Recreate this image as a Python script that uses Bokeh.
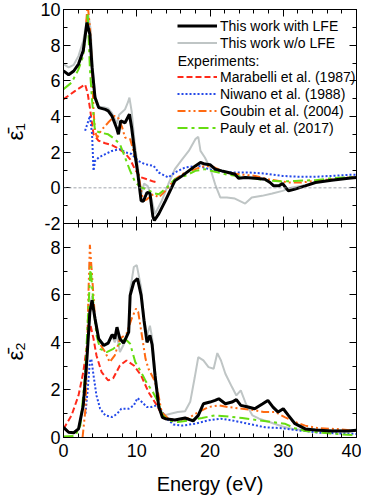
from bokeh.plotting import figure
from bokeh.models import (Range1d, LinearAxis, Legend, LegendItem, Span, Label,
                          SingleIntervalTicker, FixedTicker, CustomJSTickFormatter)
from bokeh.embed import file_html
from bokeh.resources import INLINE

FONT = "Liberation Sans"

# ---------------- data: top panel (eps1) ----------------
e1_lfe = [0, 0.7, 1.4, 2.05, 2.7, 3.2, 3.6, 3.9, 4.3, 4.8, 5.7, 6.1, 6.6, 7.3, 7.5, 7.8, 8.4, 9.0, 9.3, 9.7,
          10.15, 10.6, 10.9, 11.4, 11.8, 12.2, 12.4, 13.0, 13.9, 15.2, 16.2, 17.1, 18.0, 18.7, 19.3, 20.0, 20.7,
          21.6, 22.5, 23.4, 23.9, 24.8, 26.2, 27.5, 28.2, 28.7, 29.4, 29.9, 30.7, 31.6, 33.0, 34.4, 36.6, 38.9, 40]
v1_lfe = [6.56, 6.34, 6.55, 6.94, 7.7, 9.27, 8.6, 6.75, 5.06, 4.5, 4.4, 4.32, 4.04, 3.3, 3.0, 3.75, 3.65, 4.13,
          3.38, 2.07, 0.78, -0.73, -0.75, -0.26, -0.3, -1.6, -1.83, -1.46, -0.73, 0.39, 0.67, 0.95, 1.23, 1.42,
          1.33, 1.3, 1.05, 0.95, 0.86, 0.76, 0.54, 0.58, 0.54, 0.48, 0.3, 0.11, 0.11, 0.24, -0.17, -0.07, 0.11,
          0.3, 0.43, 0.54, 0.58]

e1_nolfe = [0, 0.7, 1.4, 2.05, 2.7, 3.2, 3.4, 3.7, 3.95, 4.3, 4.8, 5.7, 6.1, 6.6, 7.3, 7.6, 8.4, 8.8, 9.0, 9.3,
            9.7, 10.2, 10.6, 11.0, 11.5, 12.0, 12.5, 13.4, 14.3, 15.2, 16.2, 17.1, 18.0, 18.4, 18.7, 19.3, 20.0,
            20.7, 21.4, 22.3, 23.4, 24.8, 25.7, 27.1, 28.5, 29.9, 31.2, 33.0, 35, 37.5, 40]
v1_nolfe = [6.94, 6.75, 6.9, 7.4, 8.24, 9.46, 9.7, 8.9, 7.0, 5.2, 4.55, 4.5, 4.45, 4.2, 3.6, 4.1, 4.4, 4.8,
            5.06, 4.3, 2.6, 1.0, -0.4, 0.24, 0.1, -0.6, -1.47, -0.73, 0.2, 1.05, 1.6, 2.07, 2.73, 2.86, 2.07,
            1.7, 1.14, 0.2, -0.54, -0.54, -0.6, -0.88, -0.54, -0.45, -0.32, -0.17, 0.02, 0.15, 0.35, 0.48, 0.58]

e1_mar = [0, 1.6, 2.95, 3.3, 3.6, 4.1, 4.8, 5.7, 6.6, 7.5, 8.5, 9.1, 9.8, 10.5, 11.6, 12.3, 12.8]
v1_mar = [4.97, 5.44, 5.8, 5.3, 4.5, 3.0, 2.64, 2.5, 2.4, 2.2, 1.9, 1.6, 1.0, 0.6, 0.45, 0.35, 0.3]

e1_niw = [2.95, 3.4, 3.6, 3.9, 4.1, 4.3, 4.8, 5.7, 6.6, 7.7, 8.4, 9.3, 10.2, 11.1, 12.3, 13.0, 14.3, 15.2,
          16.6, 18.4, 20.7, 23.0, 25.2, 27.5, 29.9, 32.1, 34.4, 36.6, 38.9, 40]
v1_niw = [3.2, 3.76, 4.04, 3.0, 0.95, 1.5, 1.7, 1.89, 2.07, 2.17, 2.0, 1.9, 1.51, 1.33, 1.23, 0.86, 0.58,
          0.86, 1.14, 1.23, 0.95, 0.86, 0.86, 0.8, 0.67, 0.62, 0.62, 0.67, 0.73, 0.73]

e1_gou = [3.1, 3.3, 3.6, 3.9, 4.1, 4.3, 4.6, 5.1, 6.1, 7.0, 7.5, 8.0, 8.4, 9.1, 9.4, 10.1, 10.6, 10.9, 11.4,
          11.9, 12.3, 13.0, 13.9, 15.2, 16.6, 18.0, 19.3, 20.3, 22.1, 23.9, 26.2, 28.0, 29.4, 30.7, 32.5, 34.4,
          36.6, 40]
v1_gou = [9.3, 10.3, 9.0, 6.7, 4.3, 3.2, 2.8, 3.2, 3.66, 4.04, 3.9, 3.4, 2.82, 2.73, 2.3, 1.14, -0.17, -0.73,
          -0.64, -0.45, -0.36, -0.54, -0.17, 0.48, 0.86, 1.05, 1.23, 1.2, 0.86, 0.76, 0.67, 0.48, 0.39, 0.3,
          0.3, 0.39, 0.48, 0.62]

e1_pau = [0, 1.1, 2.0, 2.7, 3.0, 3.3, 3.6, 3.9, 4.3, 5.0, 6.1, 7.0, 7.7, 8.4, 9.1, 9.8, 10.6, 11.4, 12.3,
          13.0, 13.9, 15.2, 16.6, 18.0, 19.3, 20.7, 22.5, 25.2, 27.5, 29.9, 31.6, 34.4, 36.6, 40]
v1_pau = [5.53, 5.9, 6.6, 7.4, 8.6, 9.8, 6.7, 4.9, 3.2, 3.1, 3.0, 2.73, 2.45, 1.7, 0.95, 0.3, 0.02, -0.08,
          -0.3, -0.36, -0.07, 0.48, 0.67, 0.95, 1.05, 0.9, 0.73, 0.58, 0.43, 0.36, 0.39, 0.43, 0.54, 0.62]

# ---------------- data: bottom panel (eps2) ----------------
e2_lfe = [0, 0.7, 1.4, 2.05, 2.7, 3.2, 3.6, 3.9, 4.3, 4.8, 5.5, 6.1, 6.6, 6.8, 7.0, 7.3, 7.7, 8.2, 8.9, 9.1,
          9.6, 10.1, 10.6, 11.0, 11.4, 11.8, 12.1, 12.5, 13.0, 13.5, 13.9, 15.2, 16.6, 17.7, 18.4, 19.1, 20.0,
          20.7, 21.2, 22.1, 23.0, 23.6, 24.2, 25.2, 26.1, 27.2, 27.9, 28.6, 29.3, 30.0, 30.7, 31.6, 33.0, 34.4,
          36.6, 38.9, 40]
v2_lfe = [0.43, 0.22, 0.2, 0.36, 1.35, 3.32, 5.28, 5.77, 5.0, 4.15, 3.87, 3.97, 4.3, 4.3, 4.15, 4.64, 4.15,
          3.97, 4.43, 5.98, 6.54, 6.68, 5.98, 4.9, 4.0, 4.3, 3.9, 2.6, 1.3, 0.85, 0.79, 0.74, 0.82, 0.7, 0.93,
          1.42, 1.49, 1.56, 1.63, 1.42, 1.49, 1.59, 1.35, 1.28, 1.21, 1.42, 1.56, 1.28, 1.07, 1.21, 0.93, 0.58,
          0.36, 0.32, 0.27, 0.27, 0.3]

e2_nolfe = [0, 0.7, 1.4, 2.05, 2.7, 3.2, 3.6, 3.9, 4.3, 4.8, 5.5, 6.1, 6.6, 7.0, 7.3, 7.7, 8.2, 8.9, 9.1,
            9.6, 10.0, 10.6, 11.0, 11.4, 11.8, 12.1, 12.5, 13.0, 13.5, 14.2, 15.6, 16.6, 17.3, 17.9, 18.4,
            19.1, 19.8, 20.5, 21.0, 21.5, 22.1, 23.0, 23.6, 24.2, 24.9, 25.8, 26.7, 28.1, 29.9, 31.3, 33, 35, 40]
v2_nolfe = [0.43, 0.22, 0.2, 0.36, 1.35, 3.32, 5.5, 5.95, 5.1, 4.2, 3.9, 4.0, 4.3, 4.0, 4.3, 3.59, 3.9, 4.6,
            6.2, 7.17, 7.25, 6.3, 5.0, 4.3, 4.7, 4.2, 2.8, 1.4, 0.95, 0.97, 1.07, 1.1, 1.5, 2.5, 3.38, 3.24,
            2.96, 2.89, 3.55, 3.24, 2.68, 2.12, 1.77, 1.98, 1.42, 0.93, 0.79, 0.65, 0.46, 0.36, 0.32, 0.3, 0.3]

e2_mar = [0, 1.1, 2.05, 2.7, 3.4, 3.7, 4.1, 4.5, 5.2, 6.1, 6.8, 7.7, 8.6, 9.6, 10.6, 11.6, 12.6, 13.5, 14.2]
v2_mar = [0.36, 0.93, 1.77, 2.75, 4.3, 4.7, 4.15, 3.45, 2.75, 2.4, 2.5, 3.03, 3.24, 3.03, 2.61, 1.91, 1.42,
          0.93, 0.75]

e2_niw = [3.0, 3.3, 3.6, 3.8, 4.1, 4.5, 5.0, 5.7, 6.6, 7.3, 7.9, 8.9, 9.6, 10.1, 10.7, 11.4, 12.0, 12.7, 13.2,
          14.1, 15.0, 16.2, 18.0, 19.8, 21.5, 23.0, 25.2, 27.5, 29.9, 31.6, 33.0, 35, 40]
v2_niw = [1.0, 2.0, 3.2, 3.3, 2.61, 1.77, 1.21, 0.93, 0.86, 0.99, 1.21, 1.21, 1.35, 1.66, 1.49, 1.28, 1.28,
          1.35, 1.21, 0.79, 0.55, 0.5, 0.58, 0.72, 0.79, 0.72, 0.58, 0.43, 0.39, 0.32, 0.27, 0.2, 0.15]

e2_gou = [2.6, 3.0, 3.2, 3.4, 3.6, 3.9, 4.3, 4.8, 5.7, 6.3, 7.0, 7.7, 8.6, 9.3, 9.9, 10.2, 10.7, 11.2, 11.6,
          12.3, 12.8, 13.4, 14.3, 15.6, 17.1, 18.4, 19.8, 21.2, 22.5, 24.4, 26.2, 27.3, 28.9, 30.2, 31.6, 33,
          34.8, 37.1, 39.4, 40]
v2_gou = [0.0, 1.2, 3.32, 6.0, 8.1, 6.82, 5.0, 4.01, 3.59, 3.17, 3.45, 4.15, 4.36, 5.0, 5.42, 5.28, 4.3, 3.31,
          2.89, 2.47, 2.05, 1.07, 0.79, 0.72, 0.82, 1.07, 1.28, 1.35, 1.28, 1.21, 1.14, 1.07, 1.07, 0.86, 0.65,
          0.5, 0.39, 0.36, 0.3, 0.27]

e2_pau = [0, 1.6, 2.3, 2.95, 3.4, 3.7, 4.1, 4.5, 5.0, 5.9, 6.8, 7.7, 8.4, 9.1, 9.8, 10.6, 11.3, 12.2, 12.9,
          13.5, 14.3, 15.6, 17.1, 18.9, 20.7, 22.5, 24.4, 26.7, 28.5, 30.2, 31.6, 33, 35.3, 38, 40]
v2_pau = [0.04, 0.07, 0.5, 2.61, 5.42, 7.2, 5.56, 4.3, 3.73, 3.59, 3.73, 3.94, 4.15, 3.94, 3.17, 2.75, 2.33,
          1.91, 1.5, 0.95, 0.72, 0.65, 0.72, 0.82, 0.93, 0.88, 0.82, 0.72, 0.65, 0.58, 0.39, 0.27, 0.2, 0.13, 0.1]

labels = ["This work with LFE", "This work w/o LFE", "Marabelli et al. (1987)", "Niwano et al. (1988)",
          "Goubin et al. (2004)", "Pauly et al. (2017)"]
y_titles = ["\u03b5\u0304\u2081", "\u03b5\u0304\u2082"]

# axis tick values
e1_major = [-2, 0, 2, 4, 6, 8, 10]
e1_minor = [-1, 1, 3, 5, 7, 9]
e2_major = [0, 2, 4, 6, 8]
e2_minor = [1, 3, 5, 7]

# panel ranges: bottom panel eps2 in [0, 9], top panel eps1 in [-2, 10]
E2_LO, E2_HI = 0, 9
E1_LO, E1_HI = -2, 10

STYLES = [
    dict(line_color="black", line_width=3),
    dict(line_color="#bfc5c5", line_width=2),
    dict(line_color="#ff2a1a", line_width=2, line_dash="6 3"),
    dict(line_color="#2449e8", line_width=2, line_dash="2 2"),
    dict(line_color="#ff6a12", line_width=2, line_dash="8 3 2 3 2 3"),
    dict(line_color="#66dd11", line_width=2, line_dash="10 4 3 4"),
]

FRAME_W, FRAME_H = 293, 428

# main y range: bottom panel occupies lower half, top panel (extra range) the upper half
span2 = E2_HI - E2_LO
main_range = Range1d(E2_LO, E2_HI + span2)
span1 = E1_HI - E1_LO
e1_range = Range1d(E1_LO - span1, E1_HI)


def e1_to_main(v):
    return E2_HI + (v - E1_LO) * span2 / span1


y_ticks = e2_major + [e1_to_main(v) for v in e1_major]
y_minor = e2_minor + [e1_to_main(v) for v in e1_minor]
y_overrides = {float(e1_to_main(v)): str(v) for v in e1_major}
y_overrides.update({float(v): str(v) for v in e2_major})

p = figure(frame_width=FRAME_W, frame_height=FRAME_H, x_range=Range1d(0, 40), y_range=main_range,
           output_backend="svg", toolbar_location=None,
           min_border_left=57, min_border_right=5, min_border_top=9, min_border_bottom=0)
p.extra_y_ranges = {"e1": e1_range}
p.grid.visible = False
p.outline_line_color = "black"
p.outline_line_width = 1

EMPTY = CustomJSTickFormatter(code="return ''")


def style_axis(ax, show_labels):
    ax.major_tick_in = 7
    ax.major_tick_out = 0
    ax.minor_tick_in = 4
    ax.minor_tick_out = 0
    ax.axis_line_color = "black"
    ax.major_tick_line_color = "black"
    ax.minor_tick_line_color = "black"
    if show_labels:
        ax.major_label_text_font = FONT
        ax.major_label_text_font_size = "18px"
        ax.major_label_text_color = "black"
        ax.major_label_standoff = 3
    else:
        ax.formatter = EMPTY
        ax.major_label_text_font_size = "1px"
        ax.major_label_standoff = 0


def x_ticker():
    return SingleIntervalTicker(interval=10, num_minor_ticks=5)


def y_ticker():
    return FixedTicker(ticks=y_ticks, minor_ticks=y_minor)


xb = p.below[0]
xb.ticker = x_ticker()
style_axis(xb, True)
xb.major_label_standoff = 6
xb.axis_label = "Energy (eV)"
xb.axis_label_text_font = FONT
xb.axis_label_text_font_size = "20px"
xb.axis_label_text_font_style = "normal"
xb.axis_label_text_color = "black"
xb.axis_label_standoff = 13

yl = p.left[0]
yl.ticker = y_ticker()
style_axis(yl, True)
yl.major_label_overrides = y_overrides
# one axis title for both panels: eps2 (bottom half) ... eps1 (top half)
yl.axis_label = y_titles[1] + "\u00a0" * 33 + y_titles[0] + "\u00a0" * 6 + "\u200b"
yl.axis_label_text_font = FONT
yl.axis_label_text_font_size = "22px"
yl.axis_label_text_font_style = "normal"
yl.axis_label_text_color = "black"
yl.axis_label_standoff = 9

ra = LinearAxis(ticker=y_ticker())
style_axis(ra, False)
p.add_layout(ra, "right")

ta = LinearAxis(ticker=x_ticker())
style_axis(ta, False)
p.add_layout(ta, "above")

# boundary between the two panels: ticks pointing into both panels
mid = LinearAxis(ticker=x_ticker(), fixed_location=E2_HI)
style_axis(mid, False)
mid.major_tick_out = 7
mid.minor_tick_out = 4
p.add_layout(mid, "above")

# dashed zero line of the top panel
p.add_layout(Span(location=0, dimension="width", y_range_name="e1", line_color="#8a8f99",
                  line_width=0.8, line_dash="3 2"))

top_sets = [(e1_lfe, v1_lfe), (e1_nolfe, v1_nolfe), (e1_mar, v1_mar), (e1_niw, v1_niw),
            (e1_gou, v1_gou), (e1_pau, v1_pau)]
bot_sets = [(e2_lfe, v2_lfe), (e2_nolfe, v2_nolfe), (e2_mar, v2_mar), (e2_niw, v2_niw),
            (e2_gou, v2_gou), (e2_pau, v2_pau)]
order = [1, 2, 3, 4, 5, 0]
r1 = {}
for i in order:
    x, y = bot_sets[i]
    p.line(x, y, **STYLES[i])
for i in order:
    x, y = top_sets[i]
    r1[i] = p.line(x, y, y_range_name="e1", **STYLES[i])

leg_common = dict(label_text_font=FONT, label_text_font_size="14px", label_text_color="black",
                  glyph_width=40, glyph_height=17, label_height=17, label_standoff=3, spacing=0,
                  padding=0, margin=0, background_fill_alpha=0, border_line_alpha=0)
leg1 = Legend(items=[LegendItem(label=labels[i], renderers=[r1[i]]) for i in (0, 1)],
              location=(114, 386), **leg_common)
leg2 = Legend(items=[LegendItem(label=labels[i], renderers=[r1[i]]) for i in (2, 3, 4, 5)],
              location=(114, 301), **leg_common)
p.add_layout(leg1)
p.add_layout(leg2)
p.add_layout(Label(x=15.6, y=7.1, y_range_name="e1", text="Experiments:", text_font=FONT,
                   text_font_size="14px", text_baseline="middle", text_color="black"))

open("out.html", "w").write(file_html(p, INLINE))
